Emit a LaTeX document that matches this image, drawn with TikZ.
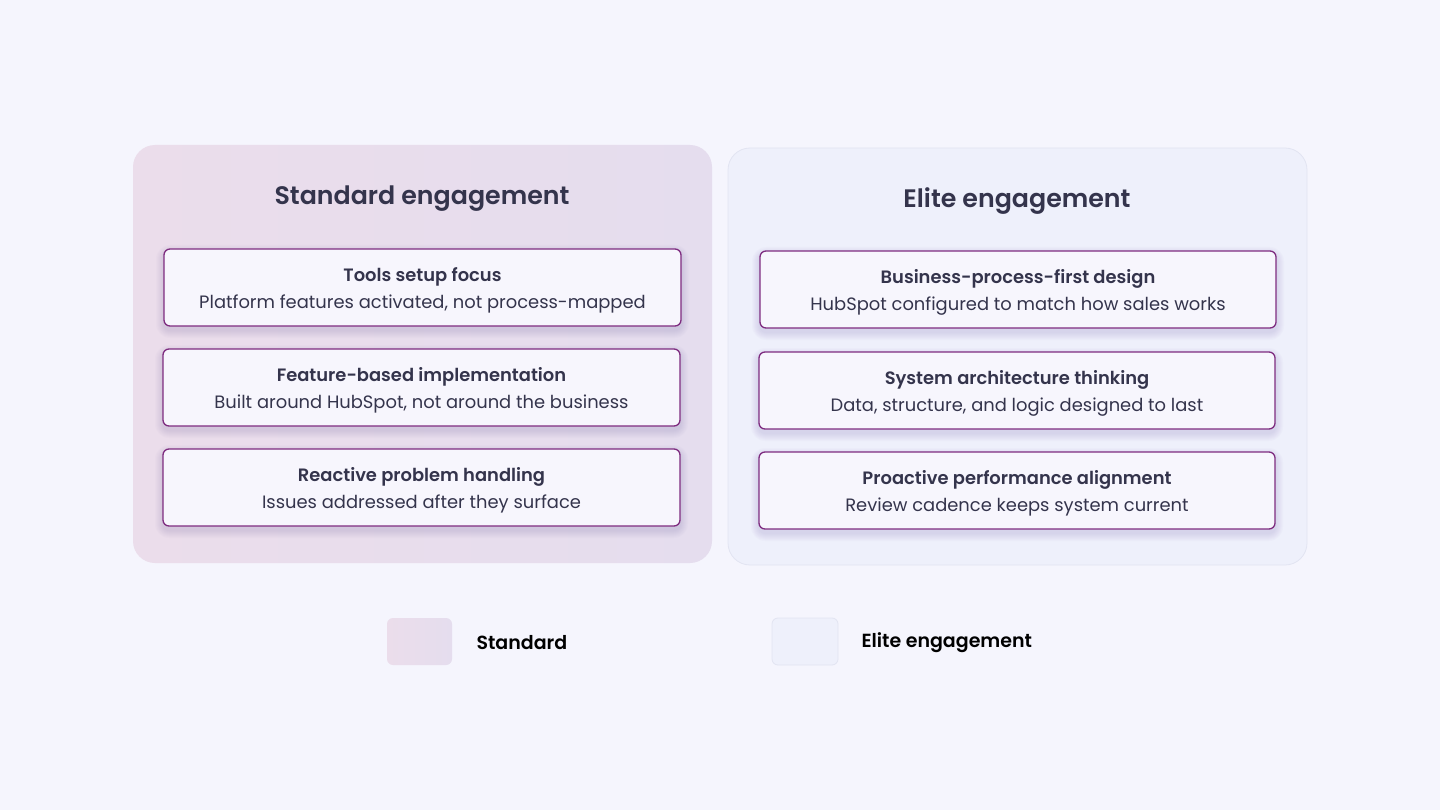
\documentclass[tikz,border=0pt]{standalone}
\usepackage{fontspec}
\setmainfont{Poppins}
\newfontfamily\semib{Poppins SemiBold}
\definecolor{bgc}{HTML}{F5F5FD}
\definecolor{stdL}{HTML}{EBDDEB}
\definecolor{stdR}{HTML}{E5DDEE}
\definecolor{elite}{HTML}{EEF0FB}
\definecolor{eliteb}{HTML}{E2E4F2}
\definecolor{boxb}{HTML}{7E2C80}
\definecolor{boxf}{HTML}{F7F6FD}
\definecolor{txt}{HTML}{34344C}
\definecolor{shc}{HTML}{5A4A9A}
\tikzset{
  x=1pt,y=-1pt,
  panel/.style={rounded corners=22pt},
  item/.style={draw=boxb,line width=1.3pt,fill=boxf,rounded corners=6pt},
  shlayer/.style={fill=shc,opacity=0.018,draw=none},
  ttl/.style={font=\semib\fontsize{25.3}{30}\selectfont,text=txt},
  ihead/.style={font=\semib\fontsize{17.9}{22}\selectfont,text=txt},
  isub/.style={font=\fontsize{17.9}{22}\selectfont,text=txt},
  legsq/.style={rounded corners=6pt},
  legtxt/.style={font=\semib\fontsize{19}{23}\selectfont,text=black,anchor=west},
}
\newcommand{\softsh}[4]{%
  \foreach \k in {1,...,8}{%
    \fill[shlayer,rounded corners={6pt+\k pt}] ({#1-\k},{#2-\k+4}) rectangle ({#3+\k},{#4+\k+4});
  }}
\begin{document}
\begin{tikzpicture}
\fill[bgc] (0,0) rectangle (1440,810);
\useasboundingbox (0,0) rectangle (1440,810);
% panels
\shade[panel,left color=stdL,right color=stdR] (133,145) rectangle (712,563);
\node[ttl] (tstd) at (422,199) {Standard engagement};
\filldraw[panel,fill=elite,draw=eliteb,line width=0.8pt] (728,148) rectangle (1307,565);
\node[ttl] (telite) at (1017,201) {Elite engagement};
% left items
\softsh{164}{249}{681}{326}
\draw[item] (164,249) rectangle (681,326);
\node[ihead] (a1) at (422.5,277) {Tools setup focus};
\node[isub] (a2) at (422.5,304) {Platform features activated, not process-mapped};
\softsh{163}{349}{680}{426}
\draw[item] (163,349) rectangle (680,426);
\node[ihead] (b1) at (421.5,377) {Feature-based implementation};
\node[isub] (b2) at (421.5,404) {Built around HubSpot, not around the business};
\softsh{163}{449}{680}{526}
\draw[item] (163,449) rectangle (680,526);
\node[ihead] (c1) at (421.5,477) {Reactive problem handling};
\node[isub] (c2) at (421.5,504) {Issues addressed after they surface};
% right items
\softsh{760}{251}{1276}{328}
\draw[item] (760,251) rectangle (1276,328);
\node[ihead] (d1) at (1018,279) {Business-process-first design};
\node[isub] (d2) at (1018,306) {HubSpot configured to match how sales works};
\softsh{759}{352}{1275}{429}
\draw[item] (759,352) rectangle (1275,429);
\node[ihead] (e1) at (1017,380) {System architecture thinking};
\node[isub] (e2) at (1017,407) {Data, structure, and logic designed to last};
\softsh{759}{452}{1275}{529}
\draw[item] (759,452) rectangle (1275,529);
\node[ihead] (f1) at (1017,480) {Proactive performance alignment};
\node[isub] (f2) at (1017,507) {Review cadence keeps system current};
% legend
\shade[legsq,left color=stdL,right color=stdR] (387,618) rectangle (452,665);
\node[legtxt] (l1) at (473,643) {Standard};
\filldraw[legsq,fill=elite,draw=eliteb,line width=0.8pt] (772,618) rectangle (838,665);
\node[legtxt] (l2) at (858,643) {Elite engagement};
\end{tikzpicture}
\end{document}
